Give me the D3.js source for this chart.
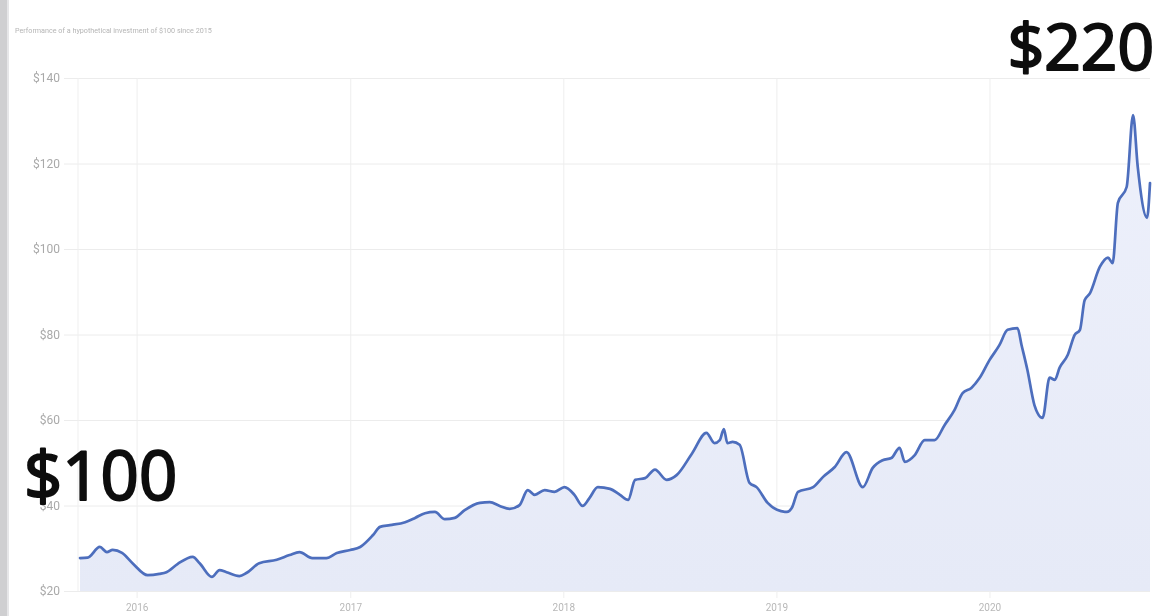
<!DOCTYPE html>
<html>
<head>
<meta charset="utf-8">
<script src="https://cdn.jsdelivr.net/npm/d3@7"></script>
<style>
  html, body { margin: 0; padding: 0; background: #fff; overflow: hidden; }
  svg { display: block; }
</style>
</head>
<body>
<svg id="chart" width="1169" height="616"></svg>
<script>
// ---- data ----
const dates = [
  "2015-09-26","2015-10-09","2015-10-30","2015-11-11","2015-11-21","2015-12-07","2015-12-25",
  "2016-01-20","2016-02-09","2016-02-21","2016-03-11","2016-04-06","2016-04-18","2016-05-09",
  "2016-05-22","2016-06-03","2016-06-25","2016-07-07","2016-07-29","2016-08-28","2016-09-19",
  "2016-10-06","2016-10-28","2016-11-21","2016-12-09","2017-01-01","2017-01-18","2017-02-09",
  "2017-02-21","2017-03-10","2017-04-05","2017-04-22","2017-05-09","2017-05-26","2017-06-12",
  "2017-06-29","2017-07-16","2017-08-11","2017-08-28","2017-09-14","2017-10-01","2017-10-18",
  "2017-11-01","2017-11-13","2017-11-30","2017-12-17","2018-01-03","2018-01-20","2018-02-03",
  "2018-02-15","2018-03-01","2018-03-22","2018-04-08","2018-04-22","2018-05-04","2018-05-21",
  "2018-06-07","2018-06-27","2018-07-14","2018-08-10","2018-09-03","2018-09-17","2018-09-26",
  "2018-10-03","2018-10-09","2018-10-18","2018-10-30","2018-11-16","2018-11-28","2018-12-17",
  "2019-01-02","2019-01-19","2019-01-28","2019-02-07","2019-03-05","2019-03-22","2019-04-11",
  "2019-05-01","2019-05-29","2019-06-15","2019-07-02","2019-07-17","2019-07-31","2019-08-09",
  "2019-08-26","2019-09-12","2019-09-29","2019-10-16","2019-11-02","2019-11-16","2019-12-01",
  "2019-12-15","2020-01-01","2020-01-18","2020-02-01","2020-02-18","2020-02-25","2020-03-06",
  "2020-03-18","2020-04-01","2020-04-13","2020-04-22","2020-04-30","2020-05-14","2020-05-26",
  "2020-06-04","2020-06-12","2020-06-21","2020-07-08","2020-07-22","2020-07-30","2020-08-08",
  "2020-08-23","2020-09-03","2020-09-11","2020-09-27","2020-10-02"
];
const values = [
  27.7, 27.8, 30.3, 29.1, 29.6, 28.9, 26.5,
  23.7, 24.0, 24.4, 26.3, 28.0, 26.5, 23.3,
  24.9, 24.4, 23.5, 24.2, 26.5, 27.3, 28.4,
  29.1, 27.7, 27.7, 28.9, 29.6, 30.3, 33.1,
  35.0, 35.4, 36.1, 37.1, 38.2, 38.5, 36.8,
  37.1, 38.9, 40.6, 40.8, 39.9, 39.2, 40.1,
  43.6, 42.5, 43.6, 43.2, 44.3, 42.5, 39.9,
  41.8, 44.3, 43.9, 42.5, 41.3, 46.0, 46.4,
  48.4, 46.0, 47.1, 52.3, 57.0, 54.6, 55.3,
  57.9, 54.6, 54.9, 54.2, 45.3, 44.3, 40.6,
  39.0, 38.5, 39.6, 43.2, 44.3, 46.7, 49.0,
  52.5, 44.3, 48.8, 50.6, 51.1, 53.5, 50.2,
  51.8, 55.3, 55.3, 58.8, 62.3, 66.3, 67.5,
  69.8, 74.0, 77.5, 81.1, 81.5, 77.5, 71.7,
  63.5, 60.5, 69.9, 69.4, 72.2, 75.2, 79.9,
  81.1, 88.0, 89.6, 95.8, 98.0, 96.7, 110.8,
  114.5, 131.3, 119.2, 107.3, 115.4
];
const yTicks = [20, 40, 60, 80, 100, 120, 140];
const xTickLabels = ["2016", "2017", "2018", "2019", "2020"];
const startLabel = "$100";
const endLabel = "$220";
const titleText = "Performance of a hypothetical investment of $100 since 2015";

// ---- drawing ----
const parse = d3.timeParse("%Y-%m-%d");
const data = dates.map((d, i) => ({ date: parse(d), value: values[i] }));

const svg = d3.select("#chart");
const defs = svg.append("defs");
defs.append("filter").attr("id", "soft")
  .append("feGaussianBlur").attr("stdDeviation", 0.6);

const grad = defs.append("linearGradient").attr("id", "fillGrad")
  .attr("x1", 0).attr("y1", 0).attr("x2", 0).attr("y2", 1);
grad.append("stop").attr("offset", "0%").attr("stop-color", "#edf0fb");
grad.append("stop").attr("offset", "100%").attr("stop-color", "#e6eaf7");

const root = svg.append("g").attr("filter", "url(#soft)");

// left gray edge of the screen
root.append("rect").attr("x", 0).attr("y", 0).attr("width", 7).attr("height", 616).attr("fill", "#cfcfd1");
root.append("rect").attr("x", 7).attr("y", 0).attr("width", 2).attr("height", 616).attr("fill", "#e6e6e8");

const x = d3.scaleTime()
  .domain([data[0].date, data[data.length - 1].date])
  .range([80, 1150]);
const y = d3.scaleLinear().domain([20, 140]).range([591, 78]);

const gridLeft = 64, plotRight = 1150;

// title (tiny, faint)
root.append("text").attr("x", 15).attr("y", 33)
  .attr("font-family", "Roboto, sans-serif").attr("font-size", 7.2)
  .attr("fill", "#b5b5b5").text(titleText);

// y axis with grid
const yAxis = root.append("g").attr("transform", `translate(${gridLeft},0)`)
  .call(d3.axisLeft(y).tickValues(yTicks).tickFormat(d => "$" + d)
    .tickSize(-(plotRight - gridLeft)).tickPadding(4));
yAxis.select(".domain").remove();
yAxis.selectAll("line").attr("stroke", "#ececec").attr("stroke-width", 1);
yAxis.selectAll("text").attr("font-family", "Roboto, sans-serif")
  .attr("font-size", 12).attr("fill", "#a9a9a9");

// x axis with vertical grid
const yearDates = xTickLabels.map(s => parse(s + "-01-01"));
const xAxis = root.append("g").attr("transform", "translate(0,598)")
  .call(d3.axisBottom(x).tickValues(yearDates).tickFormat(d3.timeFormat("%Y"))
    .tickSize(-(598 - 78)).tickPadding(6));
xAxis.select(".domain").remove();
xAxis.selectAll("line").attr("stroke", "#eeeeee").attr("stroke-width", 1);
xAxis.selectAll("text").attr("font-family", "Roboto, sans-serif")
  .attr("font-size", 10).attr("fill", "#b8b8b8");

// left plot border
root.append("line").attr("x1", x(data[0].date) - 2).attr("x2", x(data[0].date) - 2)
  .attr("y1", y(140)).attr("y2", y(20)).attr("stroke", "#efefef");

// area + line
const area = d3.area().x(d => x(d.date)).y0(y(20)).y1(d => y(d.value)).curve(d3.curveMonotoneX);
const line = d3.line().x(d => x(d.date)).y(d => y(d.value)).curve(d3.curveMonotoneX);

root.append("path").datum(data).attr("d", area).attr("fill", "url(#fillGrad)");
root.append("path").datum(data).attr("d", line)
  .attr("fill", "none").attr("stroke", "#4d6ebd").attr("stroke-width", 2.7)
  .attr("stroke-linejoin", "round").attr("stroke-linecap", "round");

// big annotations (regular weight thickened with a thin outline -> medium look)
const bigFont = "'Open Sans', Lato, sans-serif";
function bigText(xp, yp, anchor, txt, size) {
  root.append("text").attr("x", xp).attr("y", yp).attr("text-anchor", anchor)
    .attr("font-family", bigFont).attr("font-weight", 400)
    .attr("font-size", size).attr("fill", "#0a0a0a")
    .attr("stroke", "#0a0a0a").attr("stroke-width", 2.1).attr("stroke-linejoin", "round")
    .text(txt);
}
bigText(24, 500, "start", startLabel, 67);
bigText(1154, 70, "end", endLabel, 64);
</script>
</body>
</html>
